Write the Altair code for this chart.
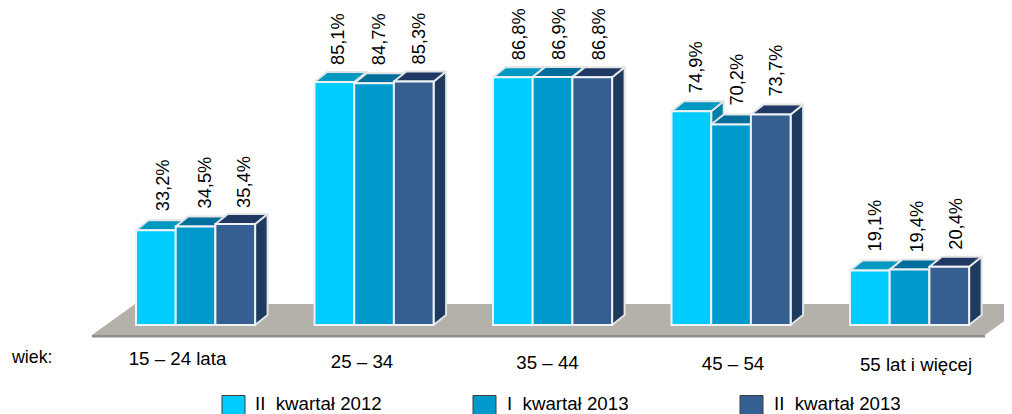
import altair as alt
import pandas as pd

# ---- values ----
CATEGORIES = ["15 – 24 lata", "25 – 34", "35 – 44", "45 – 54", "55 lat i więcej"]
SERIES = ["II\u00a0\u00a0kwartał 2012", "I\u00a0\u00a0kwartał 2013", "II\u00a0\u00a0kwartał 2013"]
Q2_2012 = [33.2, 85.1, 86.8, 74.9, 19.1]
Q1_2013 = [34.5, 84.7, 86.9, 70.2, 19.4]
Q2_2013 = [35.4, 85.3, 86.8, 73.7, 20.4]

# ---- layout (page pixels) ----
GROUP_LEFT = [136, 314.5, 493, 671.5, 850]
BAR_W = 39.7
BASE_PX = 325
PX_PER_PCT = 2.855
DEPTH_X = 12.5
DEPTH_Y = 10
LABEL_DX = [[8, 10, 10], [5, 6, 6], [7, 7, 8], [6, 7, 6], [6, 8, 8]]
LABEL_GAP = [[19, 18, 16], [17, 18, 17], [17, 17, 17], [18, 19, 18], [19, 17, 17]]
CAT_X = [177.5, 362, 547.5, 733, 916]
CAT_Y = [359, 362, 362.5, 364, 365]
LEGEND_BOX_X = [222, 473, 740]
LEGEND_TEXT_X = [255, 507, 774]

FRONT = ["#00CCFF", "#0099CC", "#355F91"]
TOP = ["#0099C2", "#006F9C", "#1F3864"]
SIDE = ["#007FA8", "#006F9C", "#1F3A5F"]
FONT = "Liberation Sans"
FS_BAR = 18.3
FS_CAT = 18.7
FS_WIEK = 17.8


def pct(px):
    return (BASE_PX - px) / PX_PER_PCT


X_SCALE = alt.Scale(domain=[8, 1004], nice=False, zero=False)
Y_SCALE = alt.Scale(domain=[pct(414), pct(8)], nice=False, zero=False)


def X(f):
    return alt.X(f + ":Q", scale=X_SCALE, axis=None, stack=None, title=None)


def Y(f):
    return alt.Y(f + ":Q", scale=Y_SCALE, axis=None, stack=None, title=None)


def color(rng):
    return alt.Color("series:N", scale=alt.Scale(domain=SERIES, range=rng), legend=None)


dy = DEPTH_Y / PX_PER_PCT
front, side, top, labels = [], [], [], []
for g, cat in enumerate(CATEGORIES):
    for s, vals in enumerate([Q2_2012, Q1_2013, Q2_2013]):
        v = vals[g]
        x0 = GROUP_LEFT[g] + s * BAR_W
        x1 = x0 + BAR_W
        key = f"{g}-{s}"
        front.append(dict(series=SERIES[s], x=x0, x2=x1, y=0, y2=v))
        side += [
            dict(series=SERIES[s], key=key, x=x1, y=v, y2=0),
            dict(series=SERIES[s], key=key, x=x1 + DEPTH_X, y=v + dy, y2=dy),
        ]
        top += [
            dict(series=SERIES[s], key=key, y=v, x=x0, x2=x1),
            dict(series=SERIES[s], key=key, y=v + dy, x=x0 + DEPTH_X, x2=x1 + DEPTH_X),
        ]
        labels.append(dict(
            t=f"{v:.1f}%".replace(".", ","),
            x=x0 + BAR_W / 2 + LABEL_DX[g][s],
            y=v + LABEL_GAP[g][s] / PX_PER_PCT,
        ))

floor_df = pd.DataFrame([
    dict(y=pct(304), x=135, x2=1028),
    dict(y=pct(335), x=92, x2=985),
])
strip_df = pd.DataFrame([
    dict(y=pct(335), x=92, x2=985),
    dict(y=pct(337.5), x=92, x2=985),
])

floor = alt.Chart(floor_df).mark_area(orient="horizontal", color="#B3B1A9", clip=True).encode(
    y=Y("y"), x=X("x"), x2="x2")
strip = alt.Chart(strip_df).mark_area(orient="horizontal", color="#8F8E89", clip=True).encode(
    y=Y("y"), x=X("x"), x2="x2")

sides = alt.Chart(pd.DataFrame(side)).mark_area(
    orient="vertical", stroke="#E2E4E6", strokeWidth=2, strokeJoin="round", fillOpacity=1
).encode(x=X("x"), y=Y("y"), y2="y2", detail="key:N", color=color(SIDE))

tops = alt.Chart(pd.DataFrame(top)).mark_area(
    orient="horizontal", stroke="#E2E4E6", strokeWidth=2, strokeJoin="round", fillOpacity=1
).encode(y=Y("y"), x=X("x"), x2="x2", detail="key:N", color=color(TOP))

fronts = alt.Chart(pd.DataFrame(front)).mark_rect(
    stroke="#EEF3F6", strokeWidth=2
).encode(x=X("x"), x2="x2", y=Y("y"), y2="y2", color=color(FRONT))

bar_labels = alt.Chart(pd.DataFrame(labels)).mark_text(
    angle=270, align="left", baseline="middle", font=FONT, fontSize=FS_BAR, color="#000000"
).encode(x=X("x"), y=Y("y"), text="t:N")

cat_df = pd.DataFrame(dict(t=CATEGORIES, x=CAT_X, y=[pct(p) for p in CAT_Y]))
cat_labels = alt.Chart(cat_df).mark_text(
    align="center", baseline="middle", font=FONT, fontSize=FS_CAT, color="#000000"
).encode(x=X("x"), y=Y("y"), text="t:N")

wiek_df = pd.DataFrame(dict(t=["wiek:"], x=[12], y=[pct(358)]))
wiek = alt.Chart(wiek_df).mark_text(
    align="left", baseline="middle", font=FONT, fontSize=FS_WIEK, color="#000000"
).encode(x=X("x"), y=Y("y"), text="t:N")

leg_box_df = pd.DataFrame(dict(
    series=SERIES,
    x=LEGEND_BOX_X,
    x2=[b + 23 for b in LEGEND_BOX_X],
    y=[pct(395.5)] * 3,
    y2=[pct(418)] * 3,
))
leg_box = alt.Chart(leg_box_df).mark_rect(
    stroke="#3F3F3F", strokeWidth=1, clip=True
).encode(x=X("x"), x2="x2", y=Y("y"), y2="y2", color=color(FRONT))

leg_txt_df = pd.DataFrame(dict(t=SERIES, x=LEGEND_TEXT_X, y=[pct(404)] * 3))
leg_txt = alt.Chart(leg_txt_df).mark_text(
    align="left", baseline="middle", font=FONT, fontSize=FS_CAT, color="#000000"
).encode(x=X("x"), y=Y("y"), text="t:N")

chart = alt.layer(
    floor, strip, sides, tops, fronts, bar_labels, cat_labels, wiek, leg_box, leg_txt
).resolve_scale(color="independent").properties(
    width=996, height=406, padding=0, autosize=alt.AutoSizeParams(type="none"),
    background="white",
).configure_view(stroke=None)

chart.save("out.html", embed_options={"renderer": "svg", "actions": False})
